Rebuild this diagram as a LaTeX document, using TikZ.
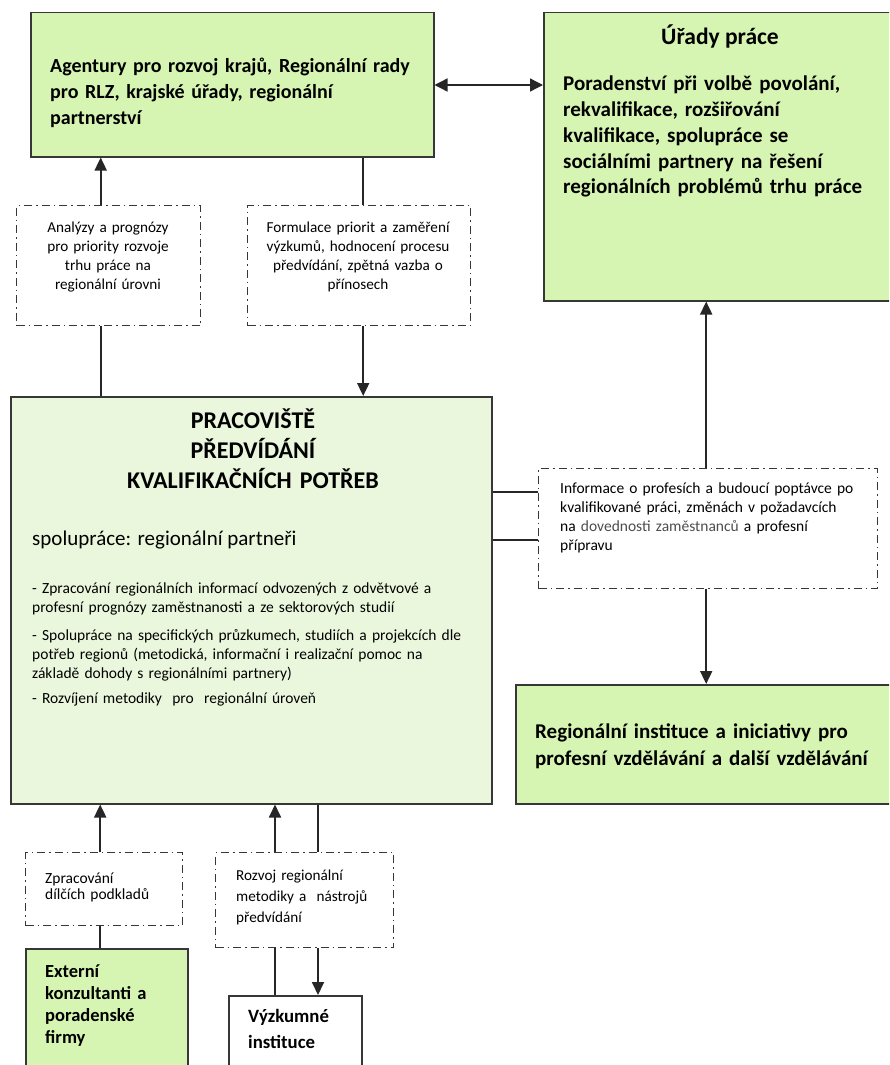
\documentclass[tikz,border=0pt]{standalone}
\usepackage{fontspec}
\setmainfont{Carlito}
\usetikzlibrary{arrows.meta}

\definecolor{boxgreen}{RGB}{215,245,178}
\definecolor{palegreen}{RGB}{235,247,221}
\definecolor{linegray}{RGB}{55,55,55}

\begin{document}
\begin{tikzpicture}
	[
	x = 1pt,
	y = -1pt,
	solidbox/.style = {draw = linegray, line width = 1.5pt, inner sep = 0pt, anchor = north west},
	greenbox/.style = {solidbox, fill = boxgreen},
	centrebox/.style = {solidbox, fill = palegreen},
	dashbox/.style = {draw = linegray, line width = 1.4pt, dash pattern = on 8pt off 4pt on 1.5pt off 4pt, inner sep = 0pt, anchor = north west},
	link/.style = {draw = black!85, line width = 1.8pt},
	arrow/.style = {link, -{Triangle[length = 13pt, width = 12pt]}},
	twoway/.style = {draw = black!85, line width = 1.4pt, {Triangle[length = 13pt, width = 13pt]}-{Triangle[length = 13pt, width = 13pt]}},
	bigtext/.style = {font = \fontsize{20.5}{26}\selectfont\bfseries, align = left, inner sep = 0pt, anchor = base west, text width = #1},
	smalltext/.style = {font = \fontsize{15.2}{19}\selectfont, align = center, inner sep = 0pt, anchor = base, text width = #1},
	leftsmall/.style = {font = \fontsize{15.5}{19}\selectfont, align = left, inner sep = 0pt, anchor = base west, text width = #1}]

	\useasboundingbox (0,0) rectangle (889,1065);
	\clip (0,0) rectangle (889,1065);

	%% Boxes

	\node[greenbox, minimum width = 403pt, minimum height = 144pt] (agent) at (30,12) {};
	\node[greenbox, minimum width = 357pt, minimum height = 288pt] (urad) at (543,12) {};
	\node[dashbox, minimum width = 184pt, minimum height = 120pt] (anal) at (16,205) {};
	\node[dashbox, minimum width = 223pt, minimum height = 120pt] (form) at (247,205) {};
	\node[centrebox, minimum width = 481pt, minimum height = 407pt] (prac) at (10,396) {};
	\node[dashbox, minimum width = 339pt, minimum height = 120pt] (info) at (538,468) {};
	\node[greenbox, minimum width = 385pt, minimum height = 119pt] (inst) at (515,684) {};
	\node[dashbox, minimum width = 157pt, minimum height = 73pt] (zprac) at (25,852) {};
	\node[greenbox, minimum width = 162pt, minimum height = 140pt] (ext) at (25,948) {};
	\node[dashbox, minimum width = 178pt, minimum height = 95pt] (rozv) at (215,852) {};
	\node[solidbox, fill = white, minimum width = 133pt, minimum height = 100pt] (vyzk) at (228,995) {};

	%% Texts

	\node[bigtext = 400pt, font = \fontsize{20}{26}\selectfont\bfseries] (agent-t) at (50,72) {Agentury pro rozvoj krajů, Regionální rady\\pro RLZ, krajské úřady, regionální\\partnerství};
	\node[font = \fontsize{23.5}{26}\selectfont\bfseries, inner sep = 0pt, anchor = base] (urad-h) at (720,45) {Úřady práce};
	\node[bigtext = 320pt, font = \fontsize{21}{26}\selectfont\bfseries] (urad-t) at (563,90) {Poradenství při volbě povolání,\\rekvalifikace, rozšiřování\\kvalifikace, spolupráce se\\sociálními partnery na řešení\\regionálních problémů trhu práce};
	\node[smalltext = 180pt] (anal-t) at (108,232) {Analýzy a prognózy\\pro priority rozvoje\\trhu práce na\\regionální úrovni};
	\node[smalltext = 220pt] (form-t) at (358,232) {Formulace priorit a zaměření\\výzkumů, hodnocení procesu\\předvídání, zpětná vazba o\\přínosech};
	\node[font = \fontsize{24}{30}\selectfont\bfseries, align = center, inner sep = 0pt, anchor = base, text width = 320pt] (prac-h) at (253,428) {PRACOVIŠTĚ\\PŘEDVÍDÁNÍ\\KVALIFIKAČNÍCH POTŘEB};
	\node[font = \fontsize{21}{24}\selectfont, inner sep = 0pt, anchor = base west] (prac-s) at (32,545) {spolupráce: regionální partneři};
	\node[leftsmall = 455pt] (prac-a) at (32,593) {- Zpracování regionálních informací odvozených z odvětvové a\\profesní prognózy zaměstnanosti a ze sektorových studií};
	\node[leftsmall = 455pt] (prac-b) at (32,640) {- Spolupráce na specifických průzkumech, studiích a projekcích dle\\potřeb regionů (metodická, informační i realizační pomoc na\\základě dohody s regionálními partnery)};
	\node[leftsmall = 455pt] (prac-c) at (32,703) {- Rozvíjení metodiky~ pro~ regionální úroveň};
	\node[leftsmall = 315pt] (info-t) at (560,493) {Informace o profesích a budoucí poptávce po\\kvalifikované práci, změnách v požadavcích\\na {\color{black!70}dovednosti zaměstnanců} a profesní\\přípravu};
	\node[bigtext = 360pt, font = \fontsize{21}{27}\selectfont\bfseries] (inst-t) at (535,738) {Regionální instituce a iniciativy pro\\profesní vzdělávání a další vzdělávání};
	\node[leftsmall = 135pt, font = \fontsize{15.5}{16}\selectfont] (zprac-t) at (45,883) {Zpracování\\dílčích podkladů};
	\node[leftsmall = 170pt, font = \fontsize{15.2}{21}\selectfont] (rozv-t) at (236,880) {Rozvoj regionální\\metodiky a~ nástrojů\\předvídání};
	\node[bigtext = 150pt, font = \fontsize{18.5}{22}\selectfont\bfseries] (ext-t) at (45,977) {Externí\\konzultanti a\\poradenské\\firmy};
	\node[bigtext = 120pt, font = \fontsize{18.8}{26}\selectfont\bfseries] (vyzk-t) at (248,1022) {Výzkumné\\instituce};

	%% Connectors

	\draw[twoway] (agent.east |- 0,85) -- (urad.west |- 0,85);
	\draw[arrow] ([xshift = -8pt]anal.north) -- ([xshift = -8pt]anal.north |- agent.south);
	\draw[link] ([xshift = -8pt]anal.south) -- ([xshift = -8pt]anal.south |- prac.north);
	\draw[link] ([xshift = 4pt]form.north) -- ([xshift = 4pt]form.north |- agent.south);
	\draw[arrow] ([xshift = 4pt]form.south) -- ([xshift = 4pt]form.south |- prac.north);

	\draw[link] (info.west |- 0,492) -- (prac.east |- 0,492);
	\draw[link] (info.west |- 0,540) -- (prac.east |- 0,540);
	\draw[arrow] ([xshift = -2pt]info.north) -- ([xshift = -2pt]info.north |- urad.south);
	\draw[arrow] ([xshift = -2pt]info.south) -- ([xshift = -2pt]info.south |- inst.north);

	\draw[arrow] ([xshift = -4pt]zprac.north) -- ([xshift = -4pt]zprac.north |- prac.south);
	\draw[link] ([xshift = -4pt]zprac.south) -- ([xshift = -4pt]zprac.south |- ext.north);
	\draw[arrow] (rozv.north west -| 275,0) -- (prac.south -| 275,0);
	\draw[link] (rozv.north west -| 318,0) -- (prac.south -| 318,0);
	\draw[link] (rozv.south west -| 275,0) -- (vyzk.north -| 275,0);
	\draw[arrow] (rozv.south west -| 318,0) -- (vyzk.north -| 318,0);
\end{tikzpicture}
\end{document}
